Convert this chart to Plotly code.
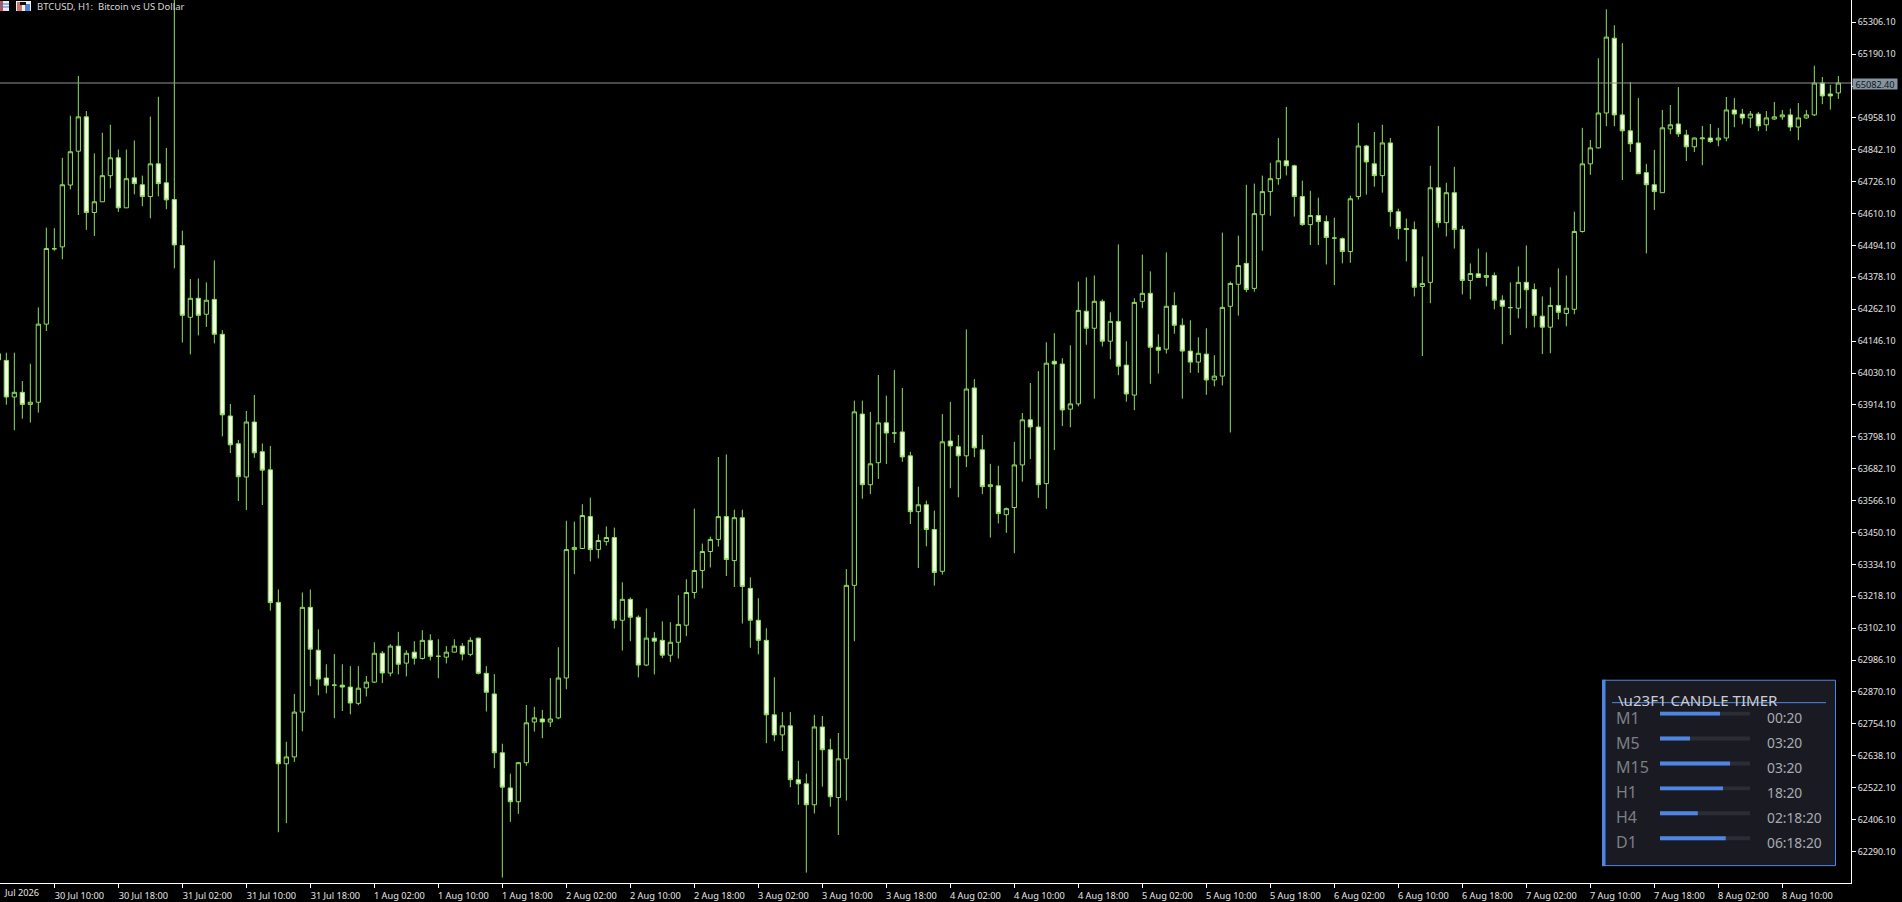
import pandas as pd
import plotly.graph_objects as go

first_hour = "2026-07-30 03:00"
opens = [64100,64076,63943,63960,63916,63924,64208,64482,64489,64714,64837,64962,64614,64653,64748,64813,64631,64740,64715,64672,64791,64722,
64661,64494,64233,64302,64244,64298,64171,63874,63773,63652,63852,63744,63678,63196,62609,62634,62797,63178,63022,62921,62895,62895,62888,62829,
62885,62906,63011,62939,63037,62975,63015,62992,63058,63000,62997,63015,63037,63007,63066,62938,62863,62649,62521,62471,62613,62761,62772,62761,
62776,62921,63388,63392,63508,63388,63417,63432,63131,63207,63142,62968,63066,63058,63004,63051,63113,63232,63312,63381,63425,63508,63348,63504,
63247,63131,63058,62787,62714,62747,62551,62536,62460,62743,62660,62486,62627,63258,63881,63624,63704,63849,63812,63816,63729,63526,63551,63461,
63309,63783,63762,63729,63976,63751,63617,63620,63515,63541,63696,63860,63834,63628,64073,64063,63899,63918,64255,64193,64291,64146,64218,64059,
63950,64291,64320,64124,64117,64276,64204,64110,64070,64099,64005,64019,64273,64353,64429,64338,64606,64690,64737,64802,64784,64672,64570,64603,
64581,64521,64519,64472,64672,64856,64791,64748,64867,64617,64556,64552,64345,64360,64704,64577,64686,64552,64367,64391,64378,64385,64295,64268,
64266,64360,64334,64237,64197,64276,64247,64262,64545,64791,64849,64976,65248,64969,64911,64867,64759,64715,64686,64918,64936,64896,64853,64882,
64885,64878,64885,64987,64972,64958,64972,64933,64954,64962,64969,64925,64958,64969,65085,65045,65049]
highs = [64104,64104,64104,64001,64064,64269,64559,64557,64813,64966,65111,64983,64829,64904,64933,64843,64843,64876,64748,64963,65035,64849,
65420,64548,64372,64374,64360,64440,64186,63918,63787,63892,63950,63774,63765,63243,62689,62863,63232,63243,63098,62971,63008,62971,62964,62964,
62928,63051,63019,63044,63089,63022,63055,63095,63080,63062,63037,63062,63048,63069,63068,62964,62935,62682,62573,62616,62823,62816,62805,62921,
63033,63493,63490,63553,63577,63443,63472,63468,63269,63214,63149,63174,63088,63127,63124,63222,63280,63537,63410,63435,63725,63734,63533,63533,
63287,63211,63102,62924,62797,62797,62620,62573,62787,62783,62700,62721,63317,63930,63930,63889,64023,63948,64041,63976,63744,63617,63566,63530,
63881,63925,63805,64189,64008,63805,63700,63693,63541,63780,63885,63994,64037,64142,64175,64084,64131,64363,64378,64385,64298,64251,64498,64146,
64302,64461,64400,64171,64469,64324,64229,64222,64160,64193,64095,64541,64363,64530,64715,64719,64748,64795,64885,64998,64788,64730,64693,64668,
64603,64595,64523,64675,64940,64860,64907,64933,64885,64628,64592,64581,64454,64784,64929,64722,64780,64566,64429,64483,64469,64396,64313,64360,
64418,64494,64356,64309,64342,64411,64385,64617,64922,64878,65175,65353,65295,65230,65088,65030,64791,64842,64987,65005,65070,64915,64887,64929,
64936,64922,65034,65030,64991,64983,64980,64983,65016,64987,64992,65012,64987,65148,65107,65078,65110]
lows = [64076,63915,63822,63864,63850,63886,64183,64475,64444,64698,64605,64551,64529,64653,64702,64616,64631,64680,64637,64593,64673,64626,
64411,64141,64098,64167,64198,64138,63800,63739,63565,63532,63722,63550,63166,62360,62393,62616,62727,62891,62858,62865,62775,62801,62789,62822,
62854,62903,62903,62927,62934,62927,62970,62988,62985,62920,62974,63015,62985,63000,62934,62799,62593,62195,62398,62427,62602,62726,62702,62743,
62771,62880,63299,63392,63345,63356,63403,63101,63021,63055,62923,62964,62934,62993,62979,62992,63073,63210,63247,63323,63399,63292,63252,63119,
63031,63007,62684,62691,62655,62524,62460,62213,62428,62526,62453,62350,62475,63055,63573,63590,63645,63699,63776,63707,63481,63321,63400,63257,
63297,63611,63578,63688,63724,63590,63432,63483,63449,63375,63635,63717,63576,63536,63750,63837,63833,63909,64133,63937,64127,64080,64022,63926,
63895,64266,63991,64028,64101,64173,63937,64031,64031,63951,63982,63985,63814,64239,64324,64326,64475,64602,64715,64749,64599,64566,64496,64496,
64425,64350,64429,64431,64661,64679,64708,64686,64563,64516,64436,64309,64092,64284,64559,64527,64483,64316,64298,64378,64345,64262,64135,64168,
64229,64193,64196,64099,64102,64225,64200,64244,64541,64751,64847,64928,64928,64732,64834,64755,64465,64623,64686,64899,64889,64801,64834,64786,
64867,64855,64873,64924,64935,64922,64910,64910,64951,64951,64910,64877,64954,64965,65008,64988,65027]
closes = [64078,63943,63960,63916,63924,64208,64483,64482,64715,64835,64962,64614,64653,64748,64813,64631,64737,64719,64672,64791,64719,64660,
64496,64240,64302,64240,64295,64171,63878,63769,63653,63852,63740,63677,63195,62609,62634,62797,63178,63026,62917,62895,62895,62888,62830,62884,
62906,63011,62939,63037,62971,63011,62993,63058,63000,63000,63015,63037,63008,63058,62938,62869,62649,62524,62471,62613,62758,62776,62761,62772,
62921,63388,63396,63512,63388,63421,63432,63131,63207,63142,62968,63066,63055,63004,63051,63116,63232,63312,63381,63425,63508,63352,63504,63254,
63131,63058,62787,62714,62747,62551,62536,62460,62743,62660,62489,62627,63258,63889,63624,63700,63849,63812,63812,63725,63526,63551,63461,63305,
63780,63765,63729,63972,63758,63617,63624,63519,63537,63696,63860,63834,63624,64066,64063,63896,63918,64258,64193,64291,64146,64218,64055,63954,
64287,64320,64124,64113,64273,64204,64110,64070,64102,64005,64019,64269,64356,64421,64334,64610,64690,64737,64802,64784,64672,64570,64603,64581,
64523,64521,64472,64664,64856,64798,64748,64867,64617,64556,64552,64342,64356,64704,64577,64686,64552,64367,64392,64378,64385,64295,64273,64268,
64360,64333,64240,64197,64276,64251,64266,64545,64791,64849,64976,65252,64969,64911,64864,64755,64715,64690,64922,64933,64900,64853,64885,64885,
64872,64885,64987,64972,64958,64972,64929,64958,64962,64969,64925,64958,64969,65085,65038,65038,65085]

price_ticks = [65306.10,65190.10,65074.10,64958.10,64842.10,64726.10,64610.10,64494.10,64378.10,64262.10,64146.10,64030.10,63914.10,63798.10,
63682.10,63566.10,63450.10,63334.10,63218.10,63102.10,62986.10,62870.10,62754.10,62638.10,62522.10,62406.10,62290.10]
time_ticks = ["2026-07-30 10:00","2026-07-30 18:00","2026-07-31 02:00","2026-07-31 10:00","2026-07-31 18:00","2026-08-01 02:00","2026-08-01 10:00",
"2026-08-01 18:00","2026-08-02 02:00","2026-08-02 10:00","2026-08-02 18:00","2026-08-03 02:00","2026-08-03 10:00","2026-08-03 18:00",
"2026-08-04 02:00","2026-08-04 10:00","2026-08-04 18:00","2026-08-05 02:00","2026-08-05 10:00","2026-08-05 18:00","2026-08-06 02:00",
"2026-08-06 10:00","2026-08-06 18:00","2026-08-07 02:00","2026-08-07 10:00","2026-08-07 18:00","2026-08-08 02:00","2026-08-08 10:00"]
time_labels = ["30 Jul 10:00","30 Jul 18:00","31 Jul 02:00","31 Jul 10:00","31 Jul 18:00","1 Aug 02:00","1 Aug 10:00","1 Aug 18:00","2 Aug 02:00",
"2 Aug 10:00","2 Aug 18:00","3 Aug 02:00","3 Aug 10:00","3 Aug 18:00","4 Aug 02:00","4 Aug 10:00","4 Aug 18:00","5 Aug 02:00","5 Aug 10:00",
"5 Aug 18:00","6 Aug 02:00","6 Aug 10:00","6 Aug 18:00","7 Aug 02:00","7 Aug 10:00","7 Aug 18:00","8 Aug 02:00","8 Aug 10:00"]
title_text = "BTCUSD, H1:\u00a0\u00a0Bitcoin vs US Dollar"
first_label = "Jul 2026"
bid_line = 65085
bid_label = "65082.40"

timer_title = "\\u23F1 CANDLE TIMER"
timer_frames = ["M1", "M5", "M15", "H1", "H4", "D1"]
timer_progress = [66.7, 33.3, 77.8, 70, 42, 73]
timer_left = ["00:20", "03:20", "03:20", "18:20", "02:18:20", "06:18:20"]

W, H = 1902, 902
AXIS_X, AXIS_Y = 1851, 886
FONT = "Noto Sans"
WICK = "#8FDF5F"
BEAR_FILL = "#F2FFE2"
BLUE = "#4F86E6"
PANEL = "#1A1B22"


def px(x):
    return x / W


def py(y):
    return 1 - y / H


times = pd.date_range(first_hour, periods=len(opens), freq="h")

fig = go.Figure()
fig.add_trace(go.Candlestick(
    x=times, open=opens, high=highs, low=lows, close=closes,
    increasing=dict(line=dict(color=WICK, width=1), fillcolor="#000000"),
    decreasing=dict(line=dict(color=WICK, width=1), fillcolor=BEAR_FILL),
    whiskerwidth=0, showlegend=False, hoverinfo="skip",
))
fig.add_trace(go.Scatter(
    x=["2026-07-30 03:12:30", "2026-08-08 18:35:00"], y=[bid_line, bid_line], mode="lines",
    line=dict(color="#8E9590", width=1), showlegend=False, hoverinfo="skip",
))
fig.add_trace(go.Bar(
    x=[100] * len(timer_frames), y=timer_frames, orientation="h", width=0.16,
    marker=dict(color="#2B2D34", line=dict(width=0)), xaxis="x2", yaxis="y2",
    showlegend=False, hoverinfo="skip",
))
fig.add_trace(go.Bar(
    x=timer_progress, y=timer_frames, orientation="h", width=0.16,
    marker=dict(color=BLUE, line=dict(width=0)), xaxis="x2", yaxis="y2",
    showlegend=False, hoverinfo="skip",
))


def rect(x0, y0, x1, y1, fill, line=None, layer="below"):
    return dict(type="rect", xref="paper", yref="paper", x0=px(x0), x1=px(x1), y0=py(y0), y1=py(y1),
                fillcolor=fill, line=dict(color=line or fill, width=1 if line else 0), layer=layer)


shapes = [
    rect(1602.5, 682.5, 1835.5, 868.5, PANEL, BLUE),
    rect(1602, 682, 1605.5, 869, BLUE),
    dict(type="line", xref="paper", yref="paper", x0=px(1612), x1=px(1826), y0=py(705), y1=py(705),
         line=dict(color=BLUE, width=1), layer="above"),
    # chart-window icons in the top-left corner
    rect(0, 1, 9, 11, "#E8EEF6", layer="above"),
    rect(0, 1, 3, 11, "#C05050", layer="above"),
    rect(0, 3.5, 9, 4.5, "#4A70C0", layer="above"),
    rect(0, 6.5, 9, 7.5, "#4A70C0", layer="above"),
    rect(16, 1, 31, 11, "#F0F0F0", layer="above"),
    rect(17, 2, 22, 11, "#D07070", layer="above"),
    rect(25, 4, 30, 11, "#5080D0", layer="above"),
    rect(20, 2, 26, 5, "#101010", layer="above"),
]


def note(text, x, y, size, color, anchor="left", **kw):
    return dict(text=text, xref="paper", yref="paper", x=px(x), y=py(y), xanchor=anchor, yanchor="middle",
                showarrow=False, borderpad=0, font=dict(family=FONT, size=size, color=color), **kw)


annotations = [
    note(title_text, 36, 6.5, 9.5, "#D8D8D8"),
    note(first_label, 3, 895.5, 9.2, "#E4E4E4"),
    note(bid_label, 1875, 84, 9.2, "#10161E", anchor="center", bgcolor="#87939F", width=44, height=10, align="center"),
    note(timer_title, 1616.5, 702, 15.1, "#C9CDD6"),
]
for i, (frame, left) in enumerate(zip(timer_frames, timer_left)):
    row_y = 720 + 25 * i
    annotations.append(note(frame, 1615, row_y, 16, "#7C7F87"))
    annotations.append(note(left, 1765.5, row_y, 13.8, "#A6AAB2"))

fig.update_layout(
    width=W, height=H, autosize=False, margin=dict(l=0, r=0, t=0, b=0, pad=0),
    paper_bgcolor="#000000", plot_bgcolor="rgba(0,0,0,0)",
    font=dict(family=FONT, size=9.2, color="#E4E4E4"), showlegend=False, barmode="overlay",
    boxmode="overlay", boxgap=0.47, boxgroupgap=0,
    shapes=shapes, annotations=annotations,
    xaxis=dict(
        type="date", domain=[0, px(AXIS_X)], range=["2026-07-30 03:12:30", "2026-08-08 18:35:00"],
        rangeslider=dict(visible=False), showgrid=False, zeroline=False,
        tickmode="array", tickvals=time_ticks, ticktext=time_labels, ticks="outside", ticklen=4, tickwidth=1,
        tickcolor="#FFFFFF", tickangle=0, ticklabelshift=25, ticklabelstandoff=0,
        showline=True, linecolor="#FFFFFF", linewidth=1, anchor="y", fixedrange=True,
    ),
    yaxis=dict(
        domain=[py(AXIS_Y), 1], range=[62175.2, 65386.9], side="right", showgrid=False, zeroline=False,
        tickmode="array", tickvals=price_ticks, ticktext=[f"{v:.2f}" for v in price_ticks],
        ticks="outside", ticklen=4, tickwidth=1, tickcolor="#FFFFFF", tickfont=dict(size=8.9),
        showline=True, linecolor="#FFFFFF", linewidth=1, anchor="x", fixedrange=True,
    ),
    xaxis2=dict(domain=[px(1660), px(1750)], range=[0, 100], visible=False, anchor="y2", fixedrange=True),
    yaxis2=dict(domain=[py(853.5), py(703.5)], type="category", categoryorder="array", categoryarray=timer_frames,
                autorange="reversed", visible=False, anchor="x2", fixedrange=True),
)

fig.write_html("out.html", config=dict(displayModeBar=False),
               post_script="document.body.style.margin='0';document.body.style.overflow='hidden';")
